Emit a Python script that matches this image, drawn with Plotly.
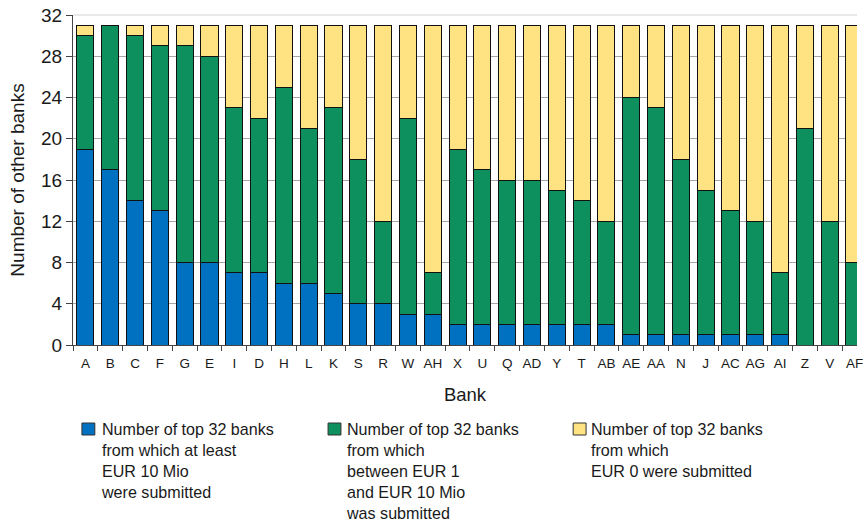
import plotly.graph_objects as go

# Banks in display order
banks = ["A", "B", "C", "F", "G", "E", "I", "D", "H", "L", "K", "S", "R", "W", "AH",
         "X", "U", "Q", "AD", "Y", "T", "AB", "AE", "AA", "N", "J", "AC", "AG", "AI",
         "Z", "V", "AF"]

# Number of top-32 banks per submission class
at_least_10_mio = [19, 17, 14, 13, 8, 8, 7, 7, 6, 6, 5, 4, 4, 3, 3,
                   2, 2, 2, 2, 2, 2, 2, 1, 1, 1, 1, 1, 1, 1, 0, 0, 0]
between_1_and_10_mio = [11, 14, 16, 16, 21, 20, 16, 15, 19, 15, 18, 14, 8, 19, 4,
                        17, 15, 14, 14, 13, 12, 10, 23, 22, 17, 14, 12, 11, 6, 21, 12, 8]
zero_submitted = [1, 0, 1, 2, 2, 3, 8, 9, 6, 10, 8, 13, 19, 9, 24,
                  12, 14, 15, 15, 16, 17, 19, 7, 8, 13, 16, 18, 19, 24, 10, 19, 23]

series_names = [
    "Number of top 32 banks<br>from which at least<br>EUR 10 Mio<br>were submitted",
    "Number of top 32 banks<br>from which<br>between EUR 1<br>and EUR 10 Mio<br>was submitted",
    "Number of top 32 banks<br>from which<br>EUR 0 were submitted",
]
series_values = [at_least_10_mio, between_1_and_10_mio, zero_submitted]
series_colors = ["#0070C0", "#0E8F5E", "#FFE282"]

y_ticks = [0, 4, 8, 12, 16, 20, 24, 28, 32]

FONT = "Liberation Sans, Arial, sans-serif"
TEXT = "#1a1a1a"

# Plot area geometry in pixels (used to place the key below the axes)
W, H = 863, 522
L_M, R_M, T_M, B_M = 73, 0, 15, 177
PW, PH = W - L_M - R_M, H - T_M - B_M


def px_x(px):
    return (px - L_M) / PW


def px_y(py):
    return (H - B_M - py) / PH


fig = go.Figure()
for name, vals, col in zip(series_names, series_values, series_colors):
    fig.add_trace(go.Bar(
        x=banks, y=vals, name=name,
        marker=dict(color=col, line=dict(color="#111111", width=1)),
        showlegend=False,
    ))

fig.update_layout(
    width=W, height=H,
    barmode="stack", bargap=0.31,
    paper_bgcolor="white", plot_bgcolor="white",
    margin=dict(l=L_M, r=R_M, t=T_M, b=B_M),
    font=dict(family=FONT, color=TEXT),
    xaxis=dict(
        type="category", range=[-0.5, 31.1],
        showline=True, linecolor="#444444", linewidth=1,
        ticks="outside", tickson="boundaries", ticklen=5, tickcolor="#444444",
        tickangle=0, ticklabelstandoff=6,
        tickfont=dict(family=FONT, size=13.5, color=TEXT),
        showgrid=False,
        title=dict(text="Bank", font=dict(family=FONT, size=18.5, color=TEXT),
                   standoff=17),
    ),
    yaxis=dict(
        range=[0, 32], tickmode="array", tickvals=y_ticks,
        showline=True, linecolor="#444444", linewidth=1,
        ticks="outside", ticklen=6, tickcolor="#444444",
        tickfont=dict(family=FONT, size=19, color=TEXT),
        showgrid=True, gridcolor="#a6a6a6", gridwidth=1,
        zeroline=False,
        title=dict(text="Number of other banks",
                   font=dict(family=FONT, size=19, color=TEXT), standoff=11),
    ),
)

# Light frame line along the top of the plotting area
fig.add_shape(type="line", xref="paper", yref="paper", x0=0, x1=1, y0=1, y1=1,
              line=dict(color="#d4d4d4", width=1), layer="above")

# Key below the chart: colour swatch plus wrapped description for each series
key_swatch_x = [82, 330, 577]
key_text_x = [99, 346, 593]
swatch_top, swatch_bottom = 423, 435
for name, col, sx, tx in zip(series_names, series_colors, key_swatch_x, key_text_x):
    fig.add_shape(type="rect", xref="paper", yref="paper",
                  x0=px_x(sx), x1=px_x(sx + 13), y0=px_y(swatch_bottom), y1=px_y(swatch_top),
                  fillcolor=col, line=dict(color="#333333", width=1))
    fig.add_annotation(xref="paper", yref="paper", x=px_x(tx), y=px_y(418),
                       xanchor="left", yanchor="top", align="left", showarrow=False,
                       text=name, font=dict(family=FONT, size=16.1, color=TEXT))

fig.write_html("out.html")
